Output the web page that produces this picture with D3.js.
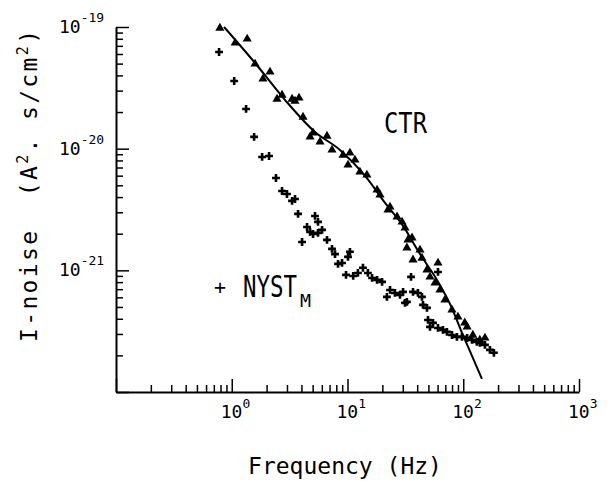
<!DOCTYPE html>
<html>
<head>
<meta charset="utf-8">
<script src="https://cdn.jsdelivr.net/npm/d3@7"></script>
<style>
body { margin: 0; background: #fff; }
text { font-family: "DejaVu Sans Mono", "Liberation Mono", monospace; fill: #000; white-space: pre; }
</style>
</head>
<body>
<script>
// CTR spectrum (triangles)
var ctrFreq = [0.79, 1.07, 1.36, 1.59, 2.14, 1.86, 2.72, 2.46, 3.32, 3.81, 3.52, 4.13, 5.04, 4.75, 6.65, 5.79, 7.35, 9.15, 10.5, 11.6,
    10.1, 12.8, 14.7, 18.0, 19.1, 22.4, 23.3, 26.8, 29.6, 31.4, 36.1, 33.3, 32.6, 42.3, 36.8, 44.0, 48.6, 60.5, 51.6, 57.0,
    62.9, 69.5, 79.9, 90.0, 103, 108, 121, 139, 154];
var ctrNoise = [9.81e-20, 7.39e-20, 7.97e-20, 4.97e-20, 4.27e-20, 3.74e-20, 2.76e-20, 2.56e-20, 2.56e-20, 2.61e-20, 2.46e-20, 1.82e-20,
    1.35e-20, 1.25e-20, 1.27e-20, 1.14e-20, 9.76e-21, 8.87e-21, 9.22e-21, 8.08e-21, 7.35e-21, 6.44e-21, 6.08e-21, 4.58e-21,
    4.17e-21, 3.14e-21, 3.32e-21, 2.75e-21, 2.50e-21, 2.23e-21, 1.85e-21, 1.78e-21, 1.53e-21, 1.47e-21, 1.22e-21, 1.26e-21,
    1.01e-21, 1.15e-21, 8.83e-22, 7.88e-22, 6.90e-22, 5.71e-22, 4.73e-22, 4.14e-22, 3.70e-22, 3.43e-22, 2.94e-22, 2.68e-22, 2.78e-22];

// NYST_M spectrum (crosses)
var nystFreq = [0.777, 1.05, 1.33, 1.56, 1.83, 2.10, 2.41, 2.72, 3.00, 3.32, 3.52, 3.74, 5.24, 5.56, 4.47, 4.75, 5.04, 5.56, 6.03, 4.05,
    6.65, 7.35, 7.80, 8.28, 8.97, 10.5, 10.1, 9.71, 11.2, 12.3, 13.6, 15.0, 16.3, 18.0, 19.9, 23.3, 25.7, 21.9, 28.4, 30.2,
    35.4, 36.8, 40.6, 44.0, 32.6, 31.4, 44.9, 48.6, 60.5, 49.6, 54.8, 51.6, 60.5, 66.8, 72.3, 79.9, 88.2, 97.4, 108, 119,
    131, 139, 154, 170, 184];
var nystNoise = [6.23e-20, 3.60e-20, 2.12e-20, 1.25e-20, 8.55e-21, 8.71e-21, 5.74e-21, 4.49e-21, 4.24e-21, 3.72e-21, 3.86e-21, 2.91e-21,
    2.80e-21, 2.50e-21, 2.27e-21, 2.07e-21, 1.99e-21, 2.03e-21, 2.15e-21, 1.71e-21, 1.78e-21, 1.50e-21, 1.36e-21, 1.13e-21,
    1.15e-21, 1.42e-21, 1.29e-21, 9.17e-22, 8.99e-22, 9.52e-22, 1.05e-21, 9.52e-22, 8.66e-22, 8.34e-22, 8.03e-22, 6.90e-22,
    6.52e-22, 6.05e-22, 6.28e-22, 6.65e-22, 8.83e-22, 6.65e-22, 6.52e-22, 6.05e-22, 5.50e-22, 5.40e-22, 5.20e-22, 4.91e-22,
    9.70e-22, 3.91e-22, 3.70e-22, 3.43e-22, 3.36e-22, 3.24e-22, 3.12e-22, 2.94e-22, 2.84e-22, 2.84e-22, 2.78e-22, 2.68e-22,
    2.58e-22, 2.53e-22, 2.44e-22, 2.22e-22, 2.10e-22];

// fitted curve through CTR
var fitFreq = [0.858, 1.59, 2.89, 5.24, 8.61, 14.2, 21.1, 30.2, 42.3, 59.3, 76.8, 99.4, 114, 145];
var fitNoise = [1.00e-19, 5.06e-20, 2.51e-20, 1.37e-20, 9.76e-21, 5.97e-21, 3.58e-21, 2.32e-21, 1.36e-21, 8.34e-22, 5.30e-22,
    2.94e-22, 2.18e-22, 1.28e-22];

// labelled decades and their exponents
var xLabelValues = [1, 10, 100, 1000];
var xLabelExp = ["0", "1", "2", "3"];
var yLabelValues = [1e-21, 1e-20, 1e-19];
var yLabelExp = ["-21", "-20", "-19"];

var width = 615;
var height = 481;

var svg = d3.select("body")
    .append("svg")
    .attr("width", width)
    .attr("height", height);

var x = d3.scaleLog()
    .domain([0.1, 1000])
    .range([116, 579]);

var y = d3.scaleLog()
    .domain([1e-22, 1e-19])
    .range([392, 27]);

function isDecade(v) {
    var l = Math.log10(v);
    return Math.abs(l - Math.round(l)) < 1e-6;
}

var xMajor = x.ticks().filter(isDecade);
var xMinor = x.ticks().filter(d => !isDecade(d));
var yMajor = y.ticks().filter(isDecade);
var yMinor = y.ticks().filter(d => !isDecade(d));

// x axis, ticks pointing inward
var gx = svg.append("g").attr("transform", "translate(0, 392)");
gx.call(d3.axisBottom(x).tickValues(xMinor).tickSize(-7).tickSizeOuter(0).tickFormat(""));
gx.select(".domain").attr("stroke-width", 2);
gx.selectAll(".tick line").attr("stroke-width", 1.5);
var gx2 = svg.append("g").attr("transform", "translate(0, 392)");
gx2.call(d3.axisBottom(x).tickValues(xMajor).tickSize(-13).tickSizeOuter(0).tickFormat(""));
gx2.select(".domain").remove();
gx2.selectAll(".tick line").attr("stroke-width", 1.5);

// y axis
var gy = svg.append("g").attr("transform", "translate(116, 0)");
gy.call(d3.axisLeft(y).tickValues(yMinor).tickSize(-7).tickSizeOuter(0).tickFormat(""));
gy.select(".domain").attr("stroke-width", 2);
gy.selectAll(".tick line").attr("stroke-width", 1.5);
var gy2 = svg.append("g").attr("transform", "translate(116, 0)");
gy2.call(d3.axisLeft(y).tickValues(yMajor).tickSize(-13).tickSizeOuter(0).tickFormat(""));
gy2.select(".domain").remove();
gy2.selectAll(".tick line").attr("stroke-width", 1.5);

// tick labels 10^n
xLabelValues.forEach((v, i) => {
    var t = svg.append("text")
        .attr("x", x(v) - 11)
        .attr("y", 418)
        .attr("font-size", 18)
        .text("10");
    t.append("tspan")
        .attr("dy", -10)
        .attr("font-size", 13)
        .text(xLabelExp[i]);
});

yLabelValues.forEach((v, i) => {
    var t = svg.append("text")
        .attr("x", 59)
        .attr("y", y(v) + 6)
        .attr("font-size", 18)
        .text("10");
    t.append("tspan")
        .attr("dy", -11)
        .attr("font-size", 13)
        .text(yLabelExp[i]);
});

// fitted line
var line = d3.line()
    .x((d, i) => x(fitFreq[i]))
    .y((d, i) => y(fitNoise[i]))
    .curve(d3.curveMonotoneX);

svg.append("path")
    .datum(fitFreq)
    .attr("d", line)
    .attr("fill", "none")
    .attr("stroke", "#000")
    .attr("stroke-width", 2);

// CTR triangles
svg.append("g")
    .selectAll("path")
    .data(d3.zip(ctrFreq, ctrNoise))
    .enter()
    .append("path")
    .attr("transform", d => `translate(${x(d[0])}, ${y(d[1])})`)
    .attr("d", d3.symbol(d3.symbolTriangle, 36))
    .attr("fill", "#000");

// NYST crosses
svg.append("g")
    .selectAll("path")
    .data(d3.zip(nystFreq, nystNoise))
    .enter()
    .append("path")
    .attr("transform", d => `translate(${x(d[0])}, ${y(d[1])})`)
    .attr("d", d3.symbol(d3.symbolCross, 34))
    .attr("fill", "#000");

// series labels
svg.append("text")
    .attr("x", 384)
    .attr("y", 133)
    .attr("font-size", 29)
    .attr("textLength", 43)
    .attr("lengthAdjust", "spacingAndGlyphs")
    .text("CTR");

svg.append("text")
    .attr("x", 220)
    .attr("y", 294)
    .attr("font-size", 20)
    .attr("text-anchor", "middle")
    .text("+");

var nyst = svg.append("text")
    .attr("x", 243)
    .attr("y", 297)
    .attr("font-size", 30);
nyst.append("tspan")
    .attr("textLength", 54)
    .attr("lengthAdjust", "spacingAndGlyphs")
    .text("NYST");
nyst.append("tspan")
    .attr("x", 300)
    .attr("dy", 10)
    .attr("font-size", 18)
    .attr("textLength", 11)
    .attr("lengthAdjust", "spacingAndGlyphs")
    .text("M");

// axis titles
svg.append("text")
    .attr("x", 345)
    .attr("y", 474)
    .attr("font-size", 23)
    .attr("text-anchor", "middle")
    .text("Frequency (Hz)");

var yt = svg.append("text")
    .attr("transform", "translate(37, 186) rotate(-90)")
    .attr("font-size", 23)
    .attr("text-anchor", "middle")
    .attr("textLength", 312)
    .attr("lengthAdjust", "spacing");
yt.append("tspan").text("I-noise  (A");
yt.append("tspan").attr("dy", -9).attr("font-size", 15).text("2");
yt.append("tspan").attr("dy", 9).text(". s/cm");
yt.append("tspan").attr("dy", -9).attr("font-size", 15).text("2");
yt.append("tspan").attr("dy", 9).text(")");
</script>
</body>
</html>
